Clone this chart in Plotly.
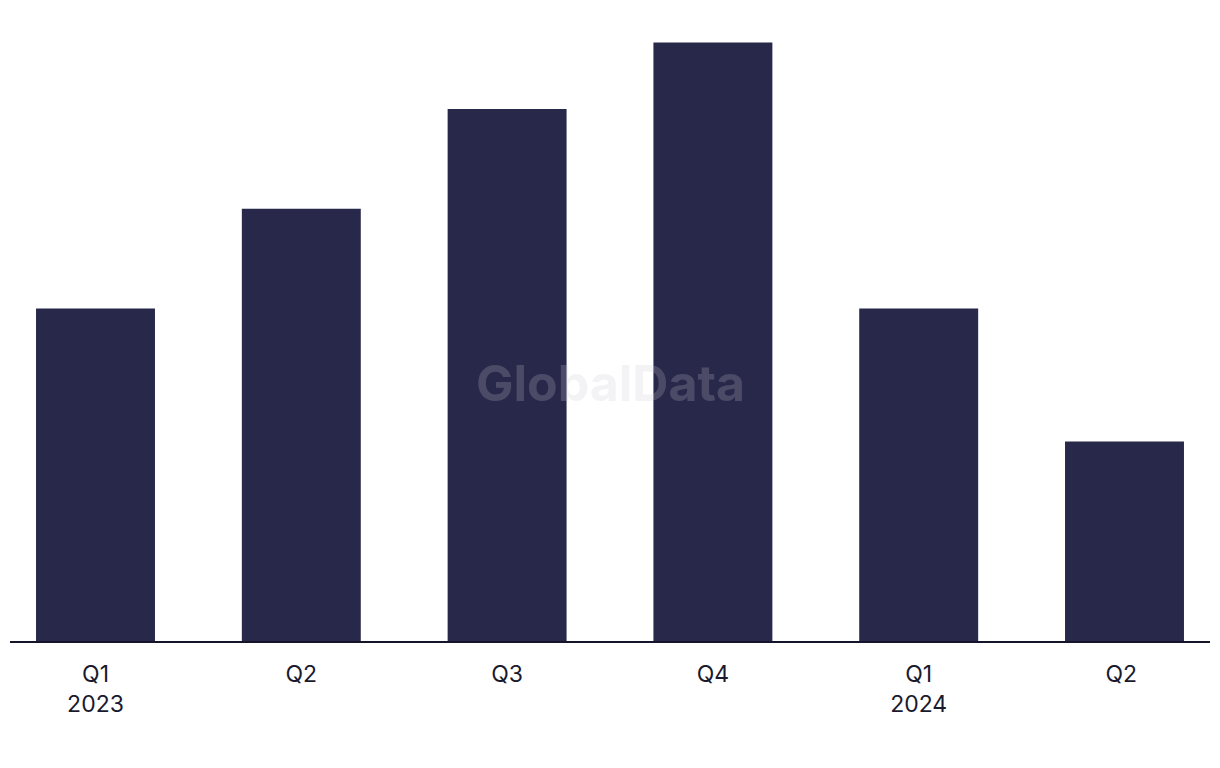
import plotly.graph_objects as go

categories = ["Q1<br>2023", "Q2", "Q3", "Q4", "Q1<br>2024", "Q2 "]
values = [10, 13, 16, 18, 10, 6]

BAR = "#28284b"

fig = go.Figure()
fig.add_trace(go.Bar(
    x=list(range(len(categories))),
    y=values,
    marker=dict(color=BAR, line=dict(width=0)),
    width=0.578,
    hoverinfo="skip",
))

fig.update_layout(
    width=1220, height=768,
    margin=dict(l=2, r=18, t=12, b=135),
    paper_bgcolor="white", plot_bgcolor="white",
    showlegend=False,
    font=dict(family="Inter, Liberation Sans, sans-serif", size=23, color="#1a1a2e"),
    xaxis=dict(
        tickmode="array",
        tickvals=list(range(len(categories))),
        ticktext=categories,
        range=[-0.4155, 5.4155],
        showgrid=False, zeroline=False,
        showline=True, linecolor="#14142a", linewidth=2,
        ticks="", ticklabelstandoff=11,
        fixedrange=True,
    ),
    yaxis=dict(
        range=[0, 621 / 33.25],
        visible=False, showgrid=False, zeroline=False,
        fixedrange=True,
    ),
    annotations=[dict(
        text="<b>GlobalData</b>",
        xref="paper", yref="paper", x=0.5, y=(641 - 383) / 621,
        xanchor="center", yanchor="middle", showarrow=False,
        font=dict(family="Inter, Liberation Sans, sans-serif", size=50, color="rgba(200,200,210,0.22)"),
    )],
)

fig.write_html("out.html")
